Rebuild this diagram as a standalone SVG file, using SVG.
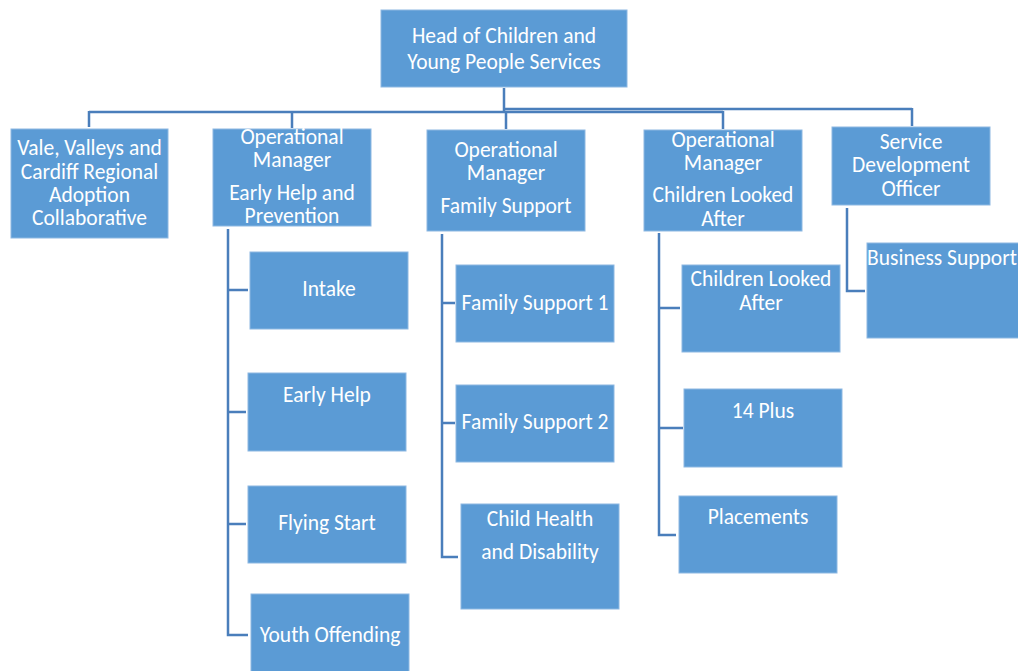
<svg xmlns="http://www.w3.org/2000/svg" width="1018" height="671" viewBox="0 0 1018 671">
<style>
.box{fill:#5B9BD5;stroke:#8DB8E2;stroke-width:1}
.t{font-family:Carlito,Lato,"Liberation Sans",sans-serif;font-size:21.5px;fill:#ffffff;text-anchor:middle}
.c{fill:none;stroke:#4A7EBB;stroke-width:2.5}
</style>
<rect width="1018" height="671" fill="#ffffff"/>
<g id="connectors">
<path class="c" d="M504,88 V112 M89,112 H723 M504,109 H912 M89,111 V127 M292,111 V128 M506,111 V129 M723,111 V129 M912,108 V126"/>
<path class="c" d="M228,229 V635 H248 M228,290 H248 M228,412 H246 M228,524 H246"/>
<path class="c" d="M442,234 V557 H458 M442,303 H455 M442,423 H455"/>
<path class="c" d="M659,233 V535 H676 M659,308 H680 M659,428 H683"/>
<path class="c" d="M847,208 V291 H865"/>
</g>
<g id="head"><rect class="box" x="381" y="10" width="246" height="77"/><text class="t" x="504" y="43">Head of Children and</text><text class="t" x="504" y="69">Young People Services</text></g>
<g id="vale"><rect class="box" x="11" y="129" width="157" height="109"/><text class="t" x="89.5" y="155">Vale, Valleys and</text><text class="t" x="89.5" y="179">Cardiff Regional</text><text class="t" x="89.5" y="202">Adoption</text><text class="t" x="89.5" y="225">Collaborative</text></g>
<g id="om-early-help"><rect class="box" x="213" y="129" width="158" height="97"/><text class="t" x="292" y="144">Operational</text><text class="t" x="292" y="167">Manager</text><text class="t" x="292" y="200">Early Help and</text><text class="t" x="292" y="223">Prevention</text></g>
<g id="om-family-support"><rect class="box" x="427" y="130" width="158" height="101"/><text class="t" x="506" y="157">Operational</text><text class="t" x="506" y="180">Manager</text><text class="t" x="506" y="213">Family Support</text></g>
<g id="om-cla"><rect class="box" x="644" y="130" width="158" height="101"/><text class="t" x="723" y="147">Operational</text><text class="t" x="723" y="170">Manager</text><text class="t" x="723" y="202">Children Looked</text><text class="t" x="723" y="226">After</text></g>
<g id="service-dev"><rect class="box" x="832" y="127" width="158" height="78"/><text class="t" x="911" y="149">Service</text><text class="t" x="911" y="172">Development</text><text class="t" x="911" y="196">Officer</text></g>
<g id="intake"><rect class="box" x="250" y="252" width="158" height="77"/><text class="t" x="329" y="296">Intake</text></g>
<g id="early-help"><rect class="box" x="248" y="373" width="158" height="78"/><text class="t" x="327" y="402">Early Help</text></g>
<g id="flying-start"><rect class="box" x="248" y="486" width="158" height="77"/><text class="t" x="327" y="530">Flying Start</text></g>
<g id="youth-offending"><rect class="box" x="251" y="594" width="158" height="80"/><text class="t" x="330" y="642">Youth Offending</text></g>
<g id="fs1"><rect class="box" x="456" y="265" width="158" height="77"/><text class="t" x="535" y="310">Family Support 1</text></g>
<g id="fs2"><rect class="box" x="456" y="385" width="158" height="77"/><text class="t" x="535" y="429">Family Support 2</text></g>
<g id="child-health"><rect class="box" x="461" y="504" width="158" height="105"/><text class="t" x="540" y="526">Child Health</text><text class="t" x="540" y="559">and Disability</text></g>
<g id="cla"><rect class="box" x="682" y="265" width="158" height="87"/><text class="t" x="761" y="286">Children Looked</text><text class="t" x="761" y="310">After</text></g>
<g id="plus14"><rect class="box" x="684" y="389" width="158" height="78"/><text class="t" x="763" y="418">14 Plus</text></g>
<g id="placements"><rect class="box" x="679" y="496" width="158" height="77"/><text class="t" x="758" y="524">Placements</text></g>
<g id="business-support"><rect class="box" x="867" y="243" width="152" height="95"/><text class="t" x="942" y="265">Business Support</text></g>
</svg>
